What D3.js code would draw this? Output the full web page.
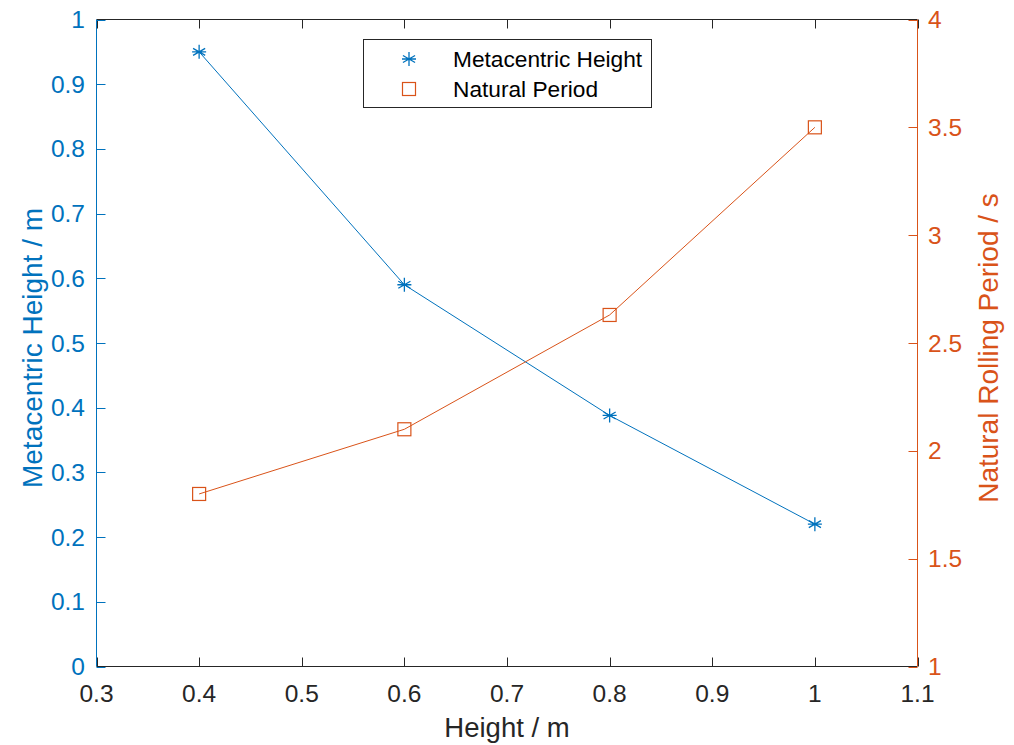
<!DOCTYPE html>
<meta charset="utf-8">
<style>
body { margin: 0; background: #fff; }
text { font-family: "Liberation Sans", Arial, Helvetica, sans-serif; }
</style>
<svg width="1014" height="745"></svg>
<script src="https://cdn.jsdelivr.net/npm/d3@7"></script>
<script>

var heights = [0.4, 0.6, 0.8, 1.0];
var metacentric = [0.95, 0.59, 0.388, 0.22];
var period = [1.8, 2.1, 2.63, 3.5];
var xTicks = [0.3, 0.4, 0.5, 0.6, 0.7, 0.8, 0.9, 1, 1.1];
var yLeftTicks = [0, 0.1, 0.2, 0.3, 0.4, 0.5, 0.6, 0.7, 0.8, 0.9, 1];
var yRightTicks = [1, 1.5, 2, 2.5, 3, 3.5, 4];

var blue = "#0072BD", orange = "#D95319", dark = "#262626";
var pLeft = 96.5, pRight = 917.5, pTop = 19.5, pBottom = 666.5;
var tickLen = 9;

var svg = d3.select("svg");

var x = d3.scaleLinear().domain([0.3, 1.1]).range([pLeft, pRight]);
var yL = d3.scaleLinear().domain([0, 1]).range([pBottom, pTop]);
var yR = d3.scaleLinear().domain([1, 4]).range([pBottom, pTop]);

// top and bottom x axis lines
svg.append("line").attr("x1", pLeft).attr("x2", pRight).attr("y1", pTop).attr("y2", pTop)
  .attr("stroke", dark).attr("stroke-width", 1);
svg.append("line").attr("x1", pLeft).attr("x2", pRight).attr("y1", pBottom).attr("y2", pBottom)
  .attr("stroke", dark).attr("stroke-width", 1);

// x ticks (bottom and top, inward)
xTicks.forEach(function(t) {
  var px = Math.round(x(t)) + 0.5;
  svg.append("line").attr("x1", px).attr("x2", px).attr("y1", pBottom).attr("y2", pBottom - tickLen)
    .attr("stroke", dark);
  svg.append("line").attr("x1", px).attr("x2", px).attr("y1", pTop).attr("y2", pTop + tickLen)
    .attr("stroke", dark);
  svg.append("text").attr("x", x(t)).attr("y", 702)
    .attr("text-anchor", "middle").attr("font-size", 24.5).attr("fill", dark)
    .text(d3.format("~g")(t));
});

// left axis
svg.append("line").attr("x1", pLeft).attr("x2", pLeft).attr("y1", pTop).attr("y2", pBottom)
  .attr("stroke", blue);
yLeftTicks.forEach(function(t) {
  var py = Math.round(yL(t)) + 0.5;
  svg.append("line").attr("x1", pLeft).attr("x2", pLeft + tickLen).attr("y1", py).attr("y2", py)
    .attr("stroke", blue);
  svg.append("text").attr("x", 85).attr("y", yL(t) + 8.5)
    .attr("text-anchor", "end").attr("font-size", 24.5).attr("fill", blue)
    .text(d3.format("~g")(t));
});

// right axis
svg.append("line").attr("x1", pRight).attr("x2", pRight).attr("y1", pTop).attr("y2", pBottom)
  .attr("stroke", orange);
yRightTicks.forEach(function(t) {
  var py = Math.round(yR(t)) + 0.5;
  svg.append("line").attr("x1", pRight).attr("x2", pRight - tickLen).attr("y1", py).attr("y2", py)
    .attr("stroke", orange);
  svg.append("text").attr("x", 928).attr("y", yR(t) + 8.5)
    .attr("text-anchor", "start").attr("font-size", 24.5).attr("fill", orange)
    .text(d3.format("~g")(t));
});

// axis labels
svg.append("text").attr("x", (pLeft + pRight) / 2).attr("y", 737)
  .attr("text-anchor", "middle").attr("font-size", 27.5).attr("fill", dark)
  .text("Height / m");
svg.append("text").attr("transform", "translate(42,348) rotate(-90)")
  .attr("text-anchor", "middle").attr("font-size", 28).attr("fill", blue)
  .text("Metacentric Height / m");
svg.append("text").attr("transform", "translate(998,348) rotate(-90)")
  .attr("text-anchor", "middle").attr("font-size", 28).attr("fill", orange)
  .text("Natural Rolling Period / s");

// series
var mhData = heights.map(function(h, i) { return [h, metacentric[i]]; });
var npData = heights.map(function(h, i) { return [h, period[i]]; });

svg.append("path").datum(mhData)
  .attr("fill", "none").attr("stroke", blue).attr("stroke-width", 1)
  .attr("d", d3.line().x(function(d) { return x(d[0]); }).y(function(d) { return yL(d[1]); }));
svg.append("path").datum(npData)
  .attr("fill", "none").attr("stroke", orange).attr("stroke-width", 1)
  .attr("d", d3.line().x(function(d) { return x(d[0]); }).y(function(d) { return yR(d[1]); }));

function asterisk(g, cx, cy, r) {
  var d = "";
  [0, 60, 120].forEach(function(a) {
    var rad = a * Math.PI / 180;
    d += "M" + (cx - r * Math.sin(rad)) + "," + (cy - r * Math.cos(rad)) +
         "L" + (cx + r * Math.sin(rad)) + "," + (cy + r * Math.cos(rad));
  });
  d += "M" + (cx - r) + "," + cy + "L" + (cx + r) + "," + cy;
  g.append("path").attr("d", d).attr("stroke", blue).attr("stroke-width", 1.3).attr("fill", "none");
}

mhData.forEach(function(d) { asterisk(svg, x(d[0]), yL(d[1]), 7); });
svg.selectAll("rect.np").data(npData).enter().append("rect")
  .attr("class", "np")
  .attr("x", function(d) { return x(d[0]) - 6.5; })
  .attr("y", function(d) { return yR(d[1]) - 6.5; })
  .attr("width", 13).attr("height", 13)
  .attr("fill", "none").attr("stroke", orange).attr("stroke-width", 1.2);

// legend
var lg = svg.append("g");
lg.append("rect").attr("x", 363.5).attr("y", 39.5).attr("width", 288).attr("height", 68)
  .attr("fill", "#fff").attr("stroke", dark).attr("stroke-width", 1);
asterisk(lg, 409, 59, 7);
lg.append("rect").attr("x", 402.5).attr("y", 82.5).attr("width", 13).attr("height", 13)
  .attr("fill", "none").attr("stroke", orange).attr("stroke-width", 1.2);
lg.append("text").attr("x", 453).attr("y", 67).attr("font-size", 22.7).attr("fill", "#000")
  .text("Metacentric Height");
lg.append("text").attr("x", 453).attr("y", 97).attr("font-size", 22.7).attr("fill", "#000")
  .text("Natural Period");

</script>
